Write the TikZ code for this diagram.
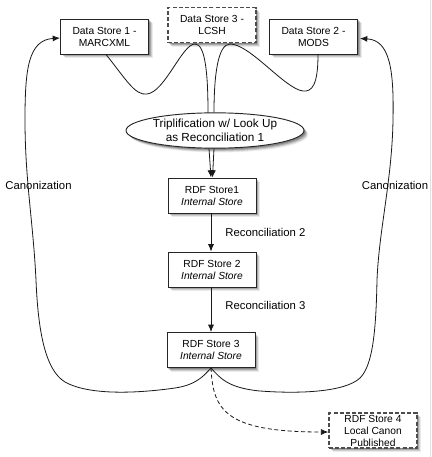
\documentclass[tikz,border=0pt]{standalone}
\usepackage{fontspec}
\setmainfont{Liberation Sans}
\usetikzlibrary{shapes.geometric,shadows,arrows.meta,calc}
\begin{document}
\begin{tikzpicture}[x=0.75pt,y=-0.75pt,
  softshadow/.style={
    drop shadow={shadow xshift=3.2pt, shadow yshift=-3.2pt, opacity=0.08, fill=black},
    drop shadow={shadow xshift=2.5pt, shadow yshift=-2.5pt, opacity=0.12, fill=black},
    drop shadow={shadow xshift=1.8pt, shadow yshift=-1.8pt, opacity=0.18, fill=black},
    drop shadow={shadow xshift=1.1pt, shadow yshift=-1.1pt, opacity=0.2, fill=black}},
  store/.style={draw=black!85, line width=0.7pt, fill=white, align=center,
    minimum width=66pt, minimum height=26.25pt, inner sep=1pt,
    font=\fontsize{7.7pt}{9pt}\selectfont, softshadow},
  dstore/.style={store, draw=black!70, line width=1.1pt, dash pattern=on 3pt off 1.6pt},
  ell/.style={ellipse, draw=black!85, line width=0.7pt, fill=white, align=center,
    minimum width=133.5pt, minimum height=26.5pt, inner sep=0pt,
    font=\fontsize{8.8pt}{10.4pt}\selectfont, softshadow},
  conn/.style={draw=black!90, line width=0.6pt},
  arr/.style={conn, -{Latex[length=5.5pt,width=4.5pt]}},
  lbl/.style={font=\fontsize{8.5pt}{10pt}\selectfont, inner sep=0pt},
]
\useasboundingbox (0,0) rectangle (432,457);
\fill[white] (0,0) rectangle (432,457);
\draw[black!12, line width=0.5pt] (430.8,0) -- (430.8,457);

\node[store]  (DS1) at (104.5,36.5) {Data Store 1 -\\MARCXML};
\node[dstore] (DS3) at (212,25)     {Data Store 3 -\\LCSH};
\node[store]  (DS2) at (313.5,36.5) {Data Store 2 -\\MODS};
\node[ell]    (EL)  at (215,130.5)  {Triplification w/ Look Up\\as Reconciliation 1};
\node[store]  (R1)  at (212,195.5)  {RDF Store1\\\textit{Internal Store}};
\node[store]  (R2)  at (212,269.5)  {RDF Store 2\\\textit{Internal Store}};
\node[store]  (R3)  at (211,350)    {RDF Store 3\\\textit{Internal Store}};
\node[dstore] (R4)  at (373,430.5)  {RDF Store 4\\Local Canon\\Published};

% triplification inputs
\draw[conn] ($(DS1.south)+(1.5,0)$) .. controls (125,78) and (135,96) .. (147,94)
  .. controls (165,92) and (182,44) .. (195,44)
  .. controls (205,44) and (208,72) .. ($(EL.north)+(-7,0.5)$);
\draw[conn] ($(DS2.south)+(4.5,0)$) .. controls (318,85) and (312,92) .. (303,91)
  .. controls (285,89) and (250,44) .. (230,44)
  .. controls (218,44) and (214,75) .. ($(EL.north)+(-1,0)$);
\draw[arr] ($(EL.south)+(-6,0)$) -- ($(R1.north)+(-1,0)$);
\draw[arr] ($(EL.south)+(-1,0)$) -- ($(R1.north)+(0.5,0)$);

% reconciliation chain
\draw[arr] ($(R1.south)+(-1,0)$) -- node[lbl, anchor=west, xshift=10.5pt] (L2) {Reconciliation 2} ($(R2.north)+(-1,0)$);
\draw[arr] ($(R2.south)+(-1,0)$) -- node[lbl, anchor=west, xshift=10.5pt, yshift=3pt] (L3) {Reconciliation 3} (R3.north);

% canonization loops
\draw[arr] (R3.south) .. controls (203,377) and (195,385) .. (175,388)
  .. controls (140,393) and (90,396) .. (65,382)
  .. controls (45,370) and (38,330) .. (36,280)
  .. controls (33,220) and (25,180) .. (25,120)
  .. controls (25,70) and (28,40) .. ($(DS1.west)+(0,1.5)$);
\draw[arr] (R3.south) .. controls (220,378) and (228,388) .. (260,391)
  .. controls (300,394) and (345,392) .. (360,378)
  .. controls (373,365) and (376,330) .. (377,280)
  .. controls (379,230) and (392,180) .. (393,120)
  .. controls (394,70) and (390,40) .. ($(DS2.east)+(2,2)$);
\node[lbl] (CL) at (38.5,185) {Canonization};
\node[lbl] (CR) at (395,185) {Canonization};

% publish
\draw[arr, dash pattern=on 3pt off 2pt] (R3.south) .. controls (213,410) and (225,432) .. ($(R4.west)+(0,1.5)$);
\end{tikzpicture}
\end{document}
